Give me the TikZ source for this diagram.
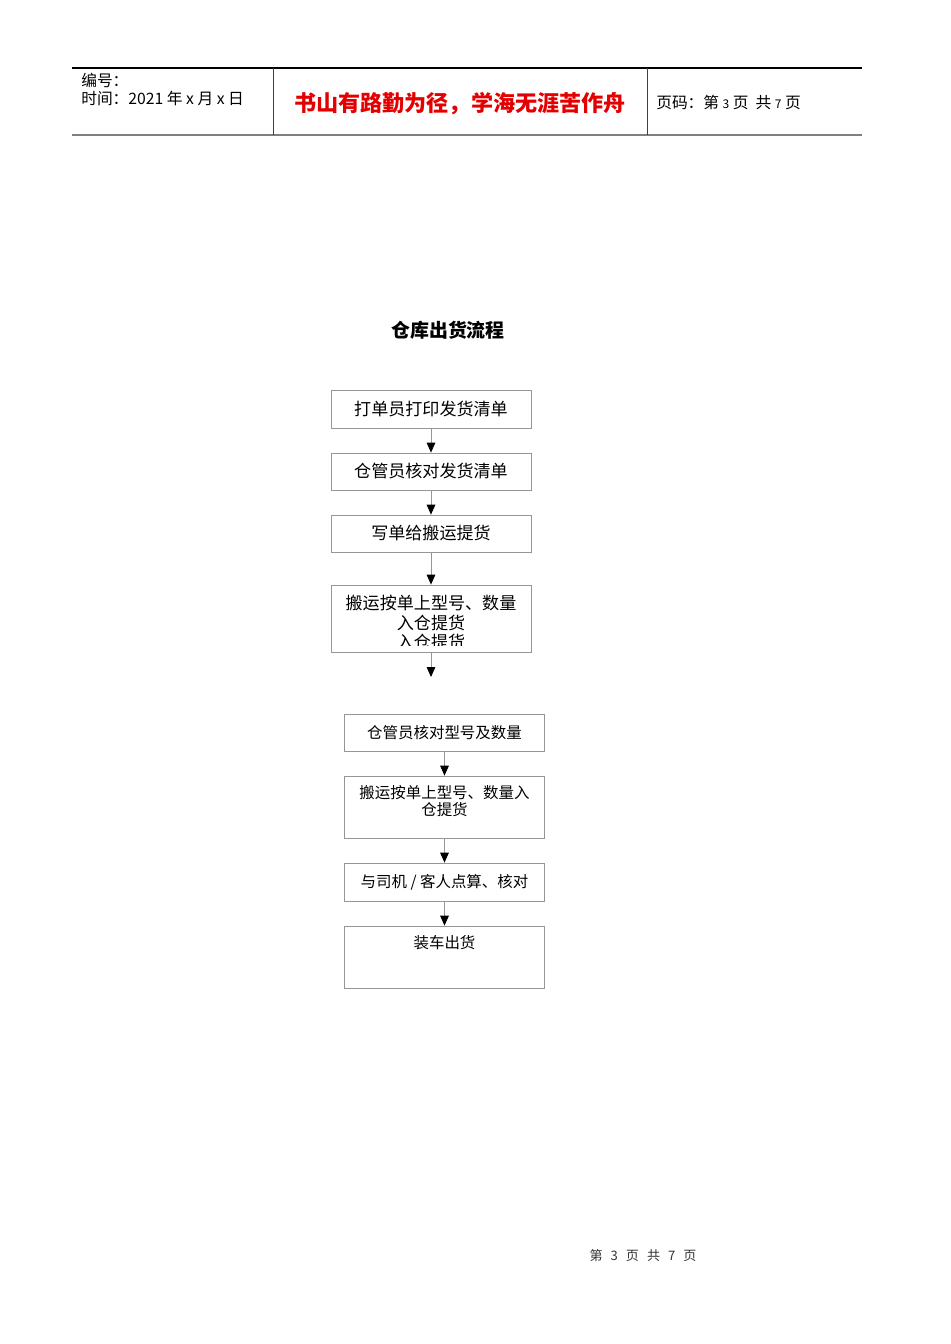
\documentclass[tikz,border=0pt]{standalone}
\usepackage{fontspec}
\setmainfont{Noto Sans CJK SC}
\usetikzlibrary{arrows.meta}
\definecolor{mottored}{RGB}{228,0,0}
\definecolor{boxgray}{RGB}{150,150,150}
\begin{document}
\begin{tikzpicture}
        [
            x=0.75pt, y=-0.75pt,
            box/.style={draw=boxgray, line width=0.6pt, minimum width=150pt, inner sep=0pt},
            flow/.style={draw=boxgray, line width=0.6pt, -{Triangle[width=6.5pt,length=7.5pt,black]}},
            bigtext/.style={font=\fontsize{12.8}{14.6}\selectfont},
            smalltext/.style={font=\fontsize{11.6}{13.6}\selectfont},
            headtext/.style={font=\fontsize{11.8}{13}\selectfont, anchor=west, inner sep=0pt},
        ]
        \useasboundingbox (0,0) rectangle (950,1344);
        % header
        \draw[line width=0.8pt] (72,68) -- (862,68);
        \draw[gray, line width=1.5pt] (72,135) -- (862,135);
        \draw[darkgray, line width=0.6pt] (273,68) -- (273,135) (647,68) -- (647,135);
        \node[headtext] (number) at (81,80) {编号：};
        \node[headtext] (time) at (81,99) {时间：2021 年 x 月 x 日};
        \node[font=\fontsize{16.6}{19}\selectfont\bfseries, text=mottored] (motto) at (460,104) {书山有路勤为径，学海无涯苦作舟};
        \node[headtext] (pageno) at (656,103) {页码：第 {\small 3} 页\ \ 共 {\small 7} 页};
        % title
        \node[font=\fontsize{14.2}{16}\selectfont\bfseries] (title) at (448,330) {仓库出货流程};
        % first group
        \node[box, minimum height=28.5pt, bigtext] (print) at (431,409) {打单员打印发货清单};
        \node[box, minimum height=27.75pt, bigtext] (check) at (431,471.5) {仓管员核对发货清单};
        \node[box, minimum height=27.75pt, bigtext] (write) at (431,533.5) {写单给搬运提货};
        \node[box, minimum height=50.25pt] (fetch) at (431,618.5) {};
        \begin{scope}
            \clip (fetch.north west) rectangle ([yshift=5pt]fetch.south east);
            \node[bigtext, align=center, anchor=north, inner sep=0pt] (fetchtext) at (431,595)
                {搬运按单上型号、数量\\入仓提货\\入仓提货};
        \end{scope}
        \coordinate (fetchend) at (431,677);
        % second group
        \node[box, minimum height=27.75pt, smalltext] (verify) at (444.5,732.5) {仓管员核对型号及数量};
        \node[box, minimum height=46.5pt] (carry) at (444.5,807) {};
        \node[smalltext, align=center, anchor=north, inner sep=0pt] (carrytext) at (444.5,785)
            {搬运按单上型号、数量入\\[-0.5pt]仓提货};
        \node[box, minimum height=28.5pt, smalltext] (count) at (444.5,882) {与司机 / 客人点算、核对};
        \node[box, minimum height=46.5pt] (load) at (444.5,957) {};
        \node[smalltext, anchor=north, inner sep=0pt] (loadtext) at (444.5,935) {装车出货};
        % arrows
        \draw[flow] (print) -- (check);
        \draw[flow] (check) -- (write);
        \draw[flow] (write) -- (fetch);
        \draw[flow] (fetch) -- (fetchend);
        \draw[flow] (verify) -- (carry);
        \draw[flow] (carry) -- (count);
        \draw[flow] (count) -- (load);
        % footer
        \node[font=\fontsize{9.8}{11}\selectfont, text=black!80] (footer) at (643,1256) {第\ \ \,3\ \ \,页\ \ \,共\ \ \,7\ \ \,页};
\end{tikzpicture}
\end{document}
